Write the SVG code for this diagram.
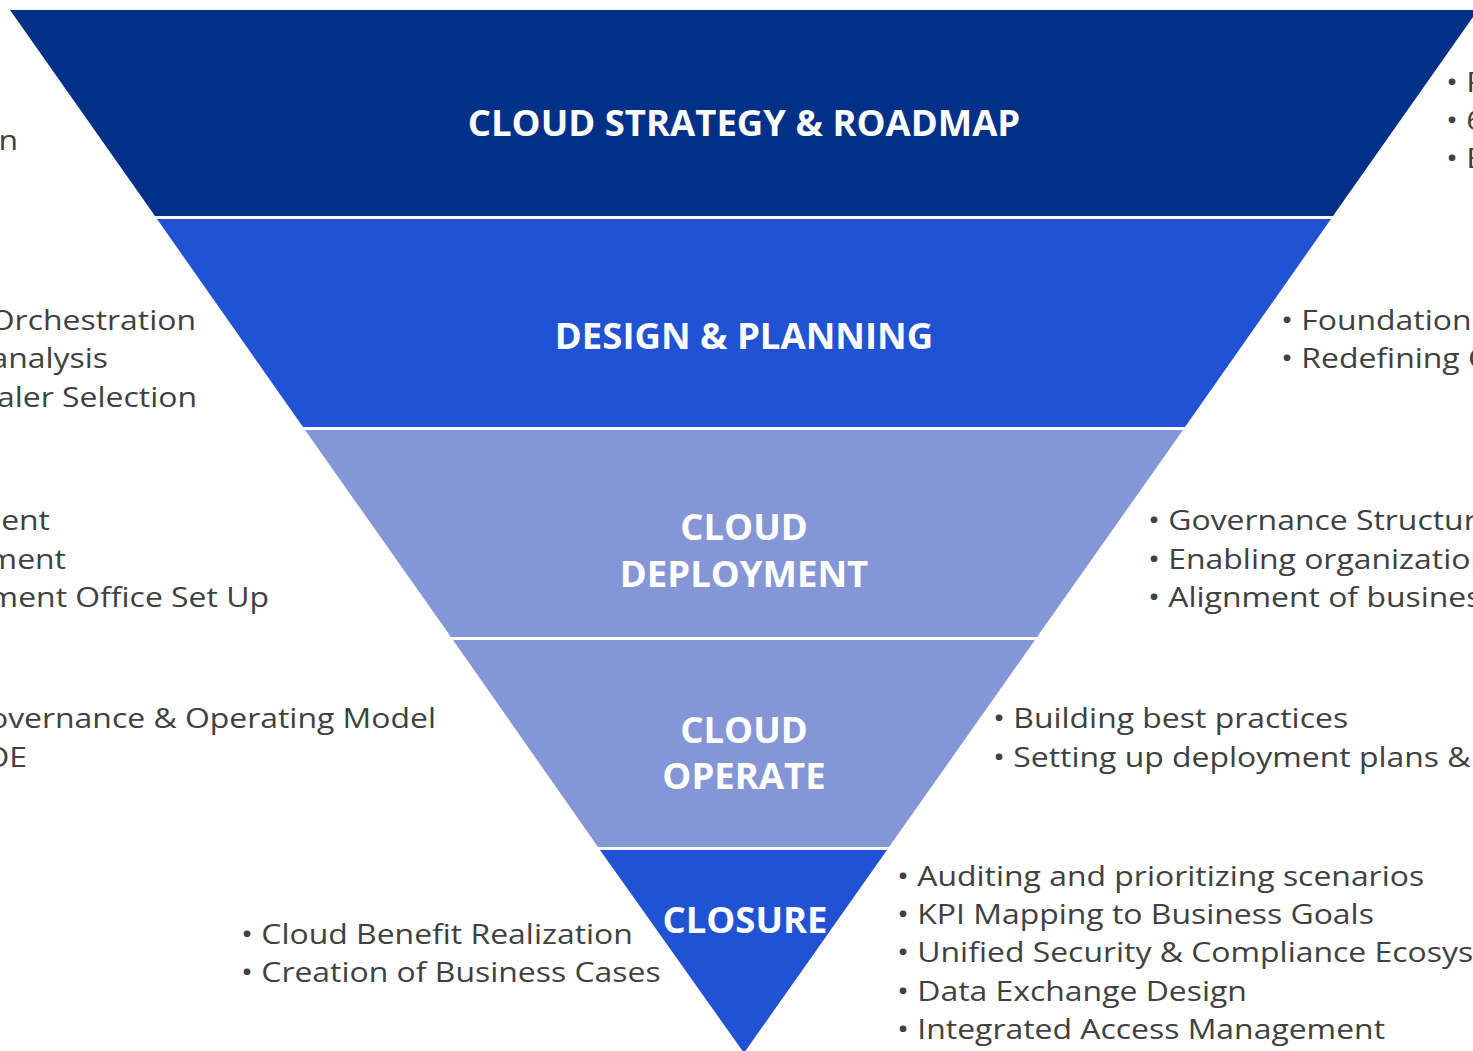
<svg xmlns="http://www.w3.org/2000/svg" width="1473" height="1051" viewBox="0 0 1473 1051">
<style>
.t{font-family:"Open Sans","Liberation Sans",sans-serif;font-weight:bold;fill:#ffffff;text-anchor:middle;font-size:36.5px}
.b{font-family:"Open Sans","Liberation Sans",sans-serif;fill:#404040;font-size:28px}
.e{text-anchor:end}
</style>
<rect width="1473" height="1051" fill="#ffffff"/>
<g id="band1">
<polygon points="10,10 1478,10 1333,216 155,216" fill="#003087"/>
<text class="t" x="744" y="136">CLOUD STRATEGY &amp; ROADMAP</text>
</g>
<g id="band2">
<polygon points="157,219 1331,219 1185,427 303,427" fill="#2152D4"/>
<text class="t" x="744" y="349">DESIGN &amp; PLANNING</text>
</g>
<g id="band3">
<polygon points="305,430 1183,430 1037,637 451,637" fill="#8596D7"/>
<text class="t" x="744" y="540">CLOUD</text>
<text class="t" x="744" y="587">DEPLOYMENT</text>
</g>
<g id="band4">
<polygon points="453,640 1035,640 889,847 598,847" fill="#8596D7"/>
<text class="t" x="744" y="743">CLOUD</text>
<text class="t" x="744" y="789">OPERATE</text>
</g>
<g id="band5">
<polygon points="600,850 887,850 744,1053" fill="#2152D4"/>
<text class="t" x="745" y="933">CLOSURE</text>
</g>
<g id="left-text">
<text class="b e" transform="translate(18,150) scale(1.14,1)">n</text>
<text class="b e" transform="translate(196,330) scale(1.14,1)">Orchestration</text>
<text class="b e" transform="translate(108,368) scale(1.14,1)">analysis</text>
<text class="b e" transform="translate(197,407) scale(1.14,1)">aler Selection</text>
<text class="b e" transform="translate(50,530) scale(1.14,1)">ent</text>
<text class="b e" transform="translate(66,569) scale(1.14,1)">ment</text>
<text class="b e" transform="translate(269,607) scale(1.14,1)">ment Office Set Up</text>
<text class="b e" transform="translate(436,728) scale(1.14,1)">overnance &amp; Operating Model</text>
<text class="b e" transform="translate(27,767) scale(1.14,1)">OE</text>
<text class="b" transform="translate(241,944) scale(1.14,1)">• Cloud Benefit Realization</text>
<text class="b" transform="translate(241,982) scale(1.14,1)">• Creation of Business Cases</text>
</g>
<g id="right-text">
<text class="b" transform="translate(1446,92) scale(1.14,1)">• F</text>
<text class="b" transform="translate(1446,130) scale(1.14,1)">• 6</text>
<text class="b" transform="translate(1446,168) scale(1.14,1)">• E</text>
<text class="b" transform="translate(1281,330) scale(1.14,1)">• Foundation</text>
<text class="b" transform="translate(1281,368) scale(1.14,1)">• Redefining C</text>
<text class="b" transform="translate(1148,530) scale(1.14,1)">• Governance Structure</text>
<text class="b" transform="translate(1148,569) scale(1.14,1)">• Enabling organization</text>
<text class="b" transform="translate(1148,607) scale(1.14,1)">• Alignment of business</text>
<text class="b" transform="translate(993,728) scale(1.14,1)">• Building best practices</text>
<text class="b" transform="translate(993,767) scale(1.14,1)">• Setting up deployment plans &amp;</text>
<text class="b" transform="translate(897,886) scale(1.14,1)">• Auditing and prioritizing scenarios</text>
<text class="b" transform="translate(897,924) scale(1.14,1)">• KPI Mapping to Business Goals</text>
<text class="b" transform="translate(897,962) scale(1.14,1)">• Unified Security &amp; Compliance Ecosystem</text>
<text class="b" transform="translate(897,1001) scale(1.14,1)">• Data Exchange Design</text>
<text class="b" transform="translate(897,1039) scale(1.14,1)">• Integrated Access Management</text>
</g>
</svg>
